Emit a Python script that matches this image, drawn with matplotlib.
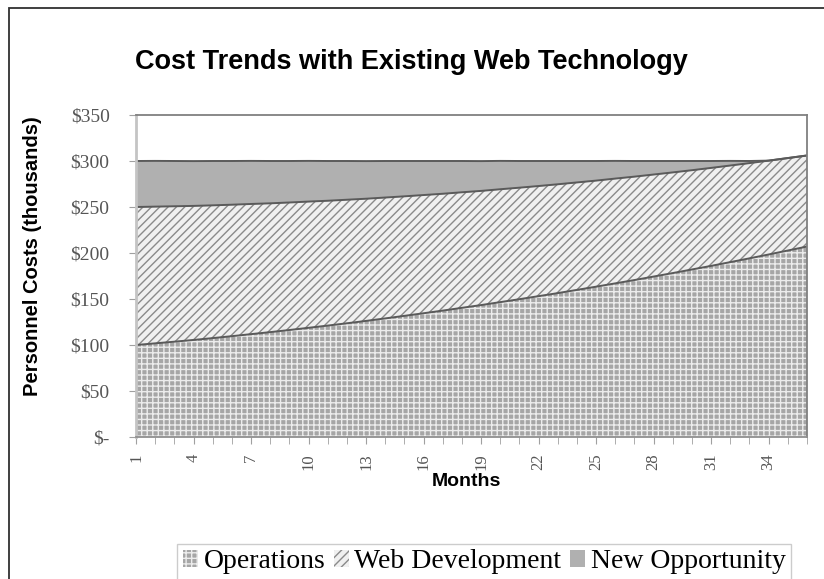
import matplotlib.pyplot as plt
from matplotlib.patches import Patch, Rectangle

months = list(range(1, 37))

# personnel costs in $ thousands
operations = [100.0, 101.8, 103.6, 105.5, 107.5, 109.6, 111.8, 114.0, 116.3, 118.7,
              121.1, 123.6, 126.2, 128.9, 131.7, 134.5, 137.4, 140.4, 143.4, 146.6,
              149.8, 153.1, 156.4, 159.9, 163.4, 167.0, 170.6, 174.4, 178.2, 182.1,
              186.0, 190.1, 194.2, 198.4, 202.7, 207.0]
web_development = [150.0, 148.6, 147.2, 145.7, 144.3, 142.9, 141.5, 140.0, 138.6, 137.2,
                   135.7, 134.3, 132.8, 131.4, 129.9, 128.5, 127.0, 125.6, 124.1, 122.7,
                   121.2, 119.7, 118.3, 116.8, 115.3, 113.9, 112.4, 110.9, 109.4, 107.9,
                   106.5, 105.0, 103.5, 102.0, 100.5, 99.0]
new_opportunity = [50.0, 49.7, 49.2, 48.7, 48.2, 47.5, 46.8, 46.0, 45.1, 44.2,
                   43.2, 42.1, 40.9, 39.7, 38.4, 37.0, 35.6, 34.0, 32.4, 30.8,
                   29.0, 27.2, 25.3, 23.3, 21.3, 19.2, 17.0, 14.7, 12.4, 10.0,
                   7.5, 5.0, 2.3, 0.0, 0.0, 0.0]

series_names = ['Operations', 'Web Development', 'New Opportunity']
y_ticks = [0, 50, 100, 150, 200, 250, 300, 350]
y_tick_labels = ['$-', '$50', '$100', '$150', '$200', '$250', '$300', '$350']
x_tick_months = list(range(1, 37, 3))

plt.rcParams['hatch.linewidth'] = 1.0
serif = 'Liberation Serif'
sans = 'Liberation Sans'

fig = plt.figure(figsize=(8.24, 5.79), dpi=100)
ax = fig.add_axes([136 / 824, 1 - 437 / 579, (807 - 136) / 824, (437 - 115) / 579])

# outer chart border (right/bottom run off the picture)
fig.patches.append(Rectangle((9 / 824, -0.05), 1.0, 1 - 8 / 579 + 0.05,
                             transform=fig.transFigure, fill=False,
                             edgecolor='#303030', linewidth=1.3))

lvl1 = operations
lvl2 = [a + b for a, b in zip(operations, web_development)]
lvl3 = [a + b for a, b in zip(lvl2, new_opportunity)]

styles = [
    dict(facecolor='#a6a6a6', edgecolor='#ececec', hatch='+++'),
    dict(facecolor='#f0f0f0', edgecolor='#8a8a8a', hatch='////'),
    dict(facecolor='#b0b0b0', edgecolor='#b0b0b0', hatch=None),
]

bottoms = [[0] * len(months), lvl1, lvl2]
tops = [lvl1, lvl2, lvl3]
for lo, hi, st in zip(bottoms, tops, styles):
    ax.fill_between(months, lo, hi, linewidth=0, **st)
for hi in tops:
    ax.plot(months, hi, color='#5a5a5a', linewidth=1.4)

ax.set_xlim(1, 36)
ax.set_ylim(0, 350)
ax.set_yticks(y_ticks)
ax.set_yticklabels(y_tick_labels, fontfamily=serif, fontsize=14, color='#555555')
ax.set_xticks(x_tick_months)
ax.set_xticklabels([str(m) for m in x_tick_months], rotation=90,
                   fontfamily=serif, fontsize=12, color='#555555')
ax.set_xticks(months, minor=True)
ax.tick_params(axis='both', which='both', direction='out', color='#a0a0a0', length=5)
ax.tick_params(axis='x', which='major', pad=7)
ax.tick_params(axis='y', pad=14)

for side in ['top', 'right']:
    ax.spines[side].set_color('#808080')
    ax.spines[side].set_linewidth(1.3)
ax.spines['left'].set_color('#c4c4c4')
ax.spines['left'].set_linewidth(2.0)
ax.spines['bottom'].set_color('#909090')
ax.spines['bottom'].set_linewidth(1.3)

fig.text(411 / 824, 1 - 62 / 579, 'Cost Trends with Existing Web Technology',
         ha='center', va='center', fontfamily=sans, fontweight='bold', fontsize=19.5)
fig.text(33 / 824, 1 - 256 / 579, 'Personnel Costs (thousands)', rotation=90,
         ha='center', va='center', fontfamily=sans, fontweight='bold', fontsize=14.5)
fig.text(466 / 824, 1 - 481 / 579, 'Months', ha='center', va='center',
         fontfamily=sans, fontweight='bold', fontsize=14)

handles = [Patch(**st, linewidth=0) for st in styles]
leg = fig.legend(handles, series_names, loc='center', ncol=3,
                 bbox_to_anchor=(484 / 824, 1 - 562 / 579),
                 prop={'family': serif, 'size': 20}, frameon=True, fancybox=False,
                 edgecolor='#c0c0c0', handlelength=0.55, handleheight=0.55,
                 handletextpad=0.2, columnspacing=0.3, borderpad=0.2)
leg.get_frame().set_linewidth(1.0)

fig.savefig('out.png', dpi=100)
